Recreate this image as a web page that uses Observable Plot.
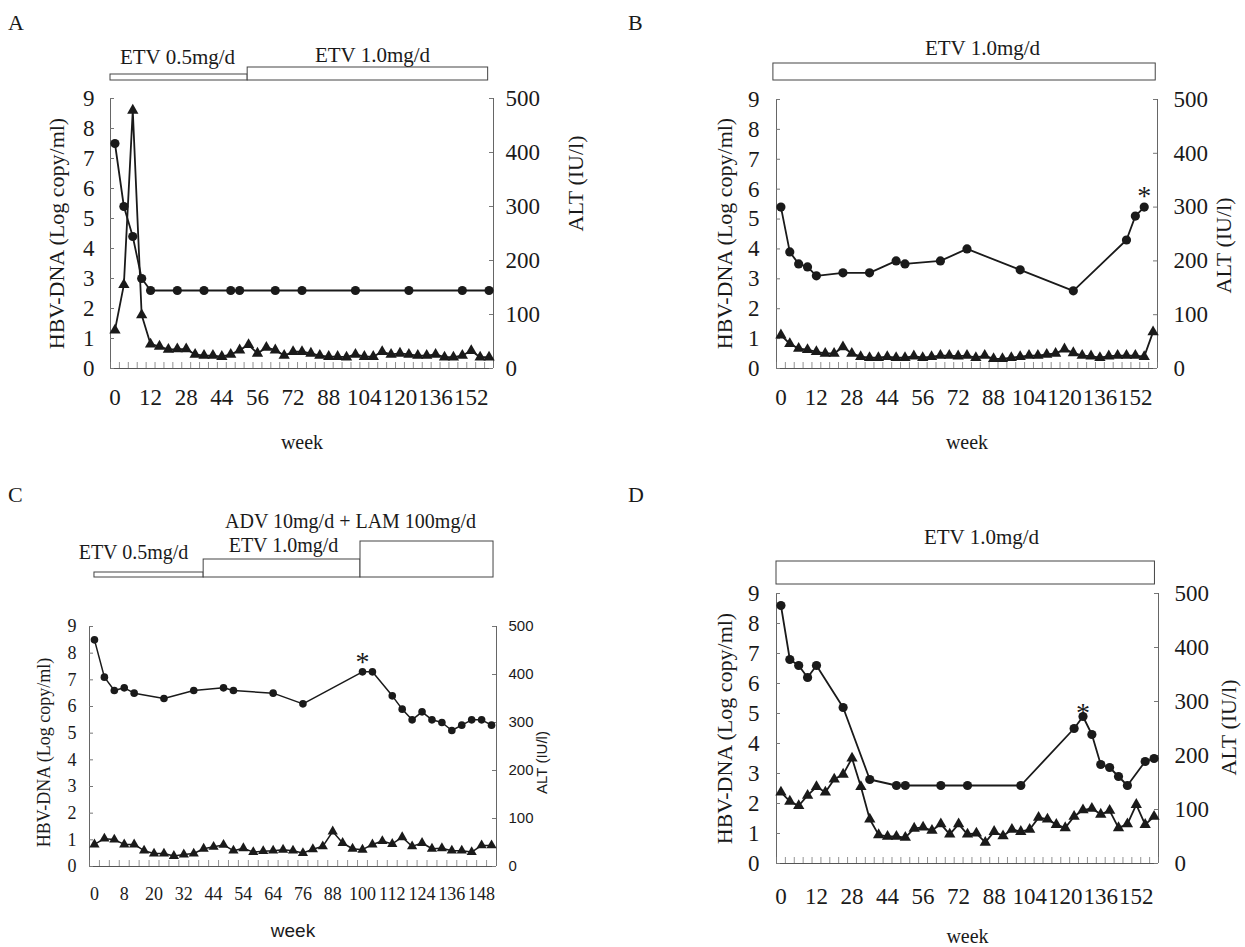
<!DOCTYPE html>
<html><head><meta charset="utf-8">
<script src="https://cdn.jsdelivr.net/npm/d3@7"></script>
<script src="https://cdn.jsdelivr.net/npm/@observablehq/plot@0.6"></script>
<style>
body{margin:0;background:#fff;}
#root{position:relative;width:1245px;height:947px;overflow:hidden;background:#fff;}
.panel{position:absolute;}
.panel svg{overflow:visible;max-width:none;}
.letter{position:absolute;font-family:"Liberation Serif",serif;font-size:22px;color:#1a1a1a;line-height:1;}
</style></head><body><div id="root"></div>
<script>
const N = null;
// visit weeks (x categories)
const weeksABD = [0,2,4,8,12,16,20,24,28,32,36,40,44,48,50,52,56,60,64,68,72,76,80,84,88,92,96,100,104,108,112,116,120,124,128,132,136,140,144,148,152,156,160];
const weeksC = [0,2,4,8,12,16,20,24,28,32,36,40,44,48,50,54,58,60,64,68,72,76,80,84,88,92,96,100,104,108,112,116,120,124,128,132,136,140,144,148,152];

// ALT (IU/l) - triangles
const altA = [71,155,478,99,45,41,35,36,36,26,24,24,22,26,34,44,28,39,34,24,31,31,28,24,22,22,21,26,22,22,31,26,28,26,24,24,26,21,21,24,33,21,21];
const altB = [62,46,37,35,31,28,28,40,28,22,20,20,22,20,20,23,20,22,24,24,23,24,20,24,18,18,20,22,24,24,26,28,36,29,24,23,20,23,24,24,24,22,68];
const altC = [46,58,56,46,46,33,27,27,22,25,27,37,41,45,33,38,30,32,33,35,33,28,36,42,73,49,37,35,46,53,47,61,42,49,37,38,33,33,30,44,44];
const altD = [132,115,107,126,142,132,156,165,195,142,82,53,50,50,48,65,67,61,73,54,73,54,56,39,59,51,63,59,63,85,82,72,66,87,99,102,91,98,66,73,109,72,87];

// HBV-DNA (log copy/ml) - circles (null = not measured)
const dnaA = [7.5,5.4,4.4,3.0,2.6,N,N,2.6,N,N,2.6,N,N,2.6,2.6,N,N,N,2.6,N,N,2.6,N,N,N,N,N,2.6,N,N,N,N,N,2.6,N,N,N,N,N,2.6,N,N,2.6];
const dnaB = [5.4,3.9,3.5,3.4,3.1,N,N,3.2,N,N,3.2,N,N,3.6,3.5,N,N,N,3.6,N,N,4.0,N,N,N,N,N,3.3,N,N,N,N,N,2.6,N,N,N,N,N,4.3,5.1,5.4,N];
const dnaC = [8.5,7.1,6.6,6.7,6.5,N,N,6.3,N,N,6.6,N,N,6.7,6.6,N,N,N,6.5,N,N,6.1,N,N,N,N,N,7.3,7.3,N,6.4,5.9,5.5,5.8,5.5,5.4,5.1,5.3,5.5,5.5,5.3];
const dnaD = [8.6,6.8,6.6,6.2,6.6,N,N,5.2,N,N,2.8,N,N,2.6,2.6,N,N,N,2.6,N,N,2.6,N,N,N,N,N,2.6,N,N,N,N,N,4.5,4.9,4.3,3.3,3.2,2.9,2.6,N,3.4,3.5];

// flagged (*) visit index
const starA = null, starB = 41, starC = 27, starD = 34;

// treatment periods (in category positions)
const treatA = [{label:"ETV 0.5mg/d", from:-0.5, to:14.9},{label:"ETV 1.0mg/d", from:14.9, to:41.9}];
const treatB = [{label:"ETV 1.0mg/d", from:-0.85, to:42.3}];
const treatC = [{label:"ETV 0.5mg/d", from:0.0, to:11.0},{label:"ETV 1.0mg/d", from:11.0, to:26.8},{label:"ADV 10mg/d + LAM 100mg/d", from:26.8, to:40.2}];
const treatD = [{label:"ETV 1.0mg/d", from:-0.5, to:42.1}];

const altTicks = [0,100,200,300,400,500];
const dnaTicks = [0,1,2,3,4,5,6,7,8,9];

const SERIF = '"Liberation Serif","Times New Roman",serif';
const SANS = '"Liberation Sans",Arial,sans-serif';
const INK = "#1a1a1a";

function makePanel(cfg, L) {
  const {weeks, alt, dna, star, treat, every} = cfg;
  const n = weeks.length;
  const k = 9 / 500;
  const pxPerY = (L.bottom - L.top) / 9;
  const pxPerX = (L.right - L.left) / n;
  const pxToY = px => (L.bottom - px) / pxPerY;
  const pxToX = px => (px - L.left) / pxPerX - 0.5;
  const altData = alt.map((v, i) => ({i, y: v * k}));
  const dnaData = dna.map((v, i) => ({i, y: v})).filter(d => d.y != null);
  const starData = dnaData.filter(d => d.i === star);
  const bounds = d3.range(n + 1).map(i => i - 0.5);
  const tLen = 4 / pxPerX;
  const treatRows = treat.map((t, j) => ({...t, top: L.barTops[j], tx: L.textX[j], ty: L.textY[j], anchor: L.textAnchor ? L.textAnchor[j] : "middle"}));
  const fs = L.fs;
  return Plot.plot({
    width: L.width, height: L.height,
    marginLeft: L.left, marginRight: L.width - L.right,
    marginTop: L.top, marginBottom: L.height - L.bottom,
    x: {domain: [-0.5, n - 0.5]},
    y: {domain: [0, 9]},
    style: {fontFamily: SERIF, color: INK, background: "transparent", overflow: "visible"},
    marks: [
      // frame: both value axes and the category axis
      Plot.ruleX([-0.5, n - 0.5], {x: d => d, y1: 0, y2: 9, stroke: "#666", strokeWidth: 1}),
      Plot.ruleY([0], {x1: -0.5, x2: n - 0.5, stroke: "#555", strokeWidth: 1.2}),
      Plot.ruleX(bounds, {x: d => d, y1: 0, y2: 6 / pxPerY, stroke: "#777", strokeWidth: 0.8}),
      Plot.ruleY(dnaTicks, {y: d => d, x1: -0.5, x2: -0.5 + tLen, stroke: "#777"}),
      Plot.ruleY(altTicks, {y: d => d * k, x1: n - 0.5 - tLen, x2: n - 0.5, stroke: "#777"}),
      Plot.axisY(dnaTicks, {anchor: "left", tickSize: 0, tickPadding: L.yPad, label: null, fontSize: fs.tick, fontFamily: SERIF}),
      Plot.axisY(altTicks.map(v => v * k), {anchor: "right", tickSize: 0, tickPadding: L.rPad, label: null,
        tickFormat: d => Math.round(d / k), fontSize: fs.rtick, fontFamily: fs.rtickFont || SERIF}),
      Plot.axisX(d3.range(0, n, every), {tickSize: 0, tickPadding: L.xPad, label: null,
        tickFormat: i => weeks[i], fontSize: fs.tick, fontFamily: SERIF}),
      // axis titles
      Plot.text(["HBV-DNA (Log copy/ml)"], {x: () => pxToX(L.leftTitleX), y: () => pxToY(L.leftTitleY),
        rotate: -90, fontSize: fs.title, fontFamily: SERIF, fill: INK}),
      Plot.text(["ALT (IU/l)"], {x: () => pxToX(L.rightTitleX), y: () => pxToY(L.rightTitleY),
        rotate: -90, fontSize: fs.rtitle, fontFamily: fs.rtitleFont || SERIF, fill: INK}),
      Plot.text(["week"], {frameAnchor: "bottom", dy: L.weekY - L.bottom, fontSize: fs.week, fontFamily: fs.weekFont || SERIF, fill: INK}),
      // treatment bars
      Plot.rect(treatRows, {x1: "from", x2: "to", y1: () => pxToY(L.barBottom), y2: d => pxToY(d.top),
        fill: "white", stroke: "#444", strokeWidth: 1}),
      Plot.text(treatRows, {x: d => pxToX(d.tx), y: d => pxToY(d.ty), text: "label", textAnchor: d => d.anchor,
        fontSize: fs.treat, fontFamily: SERIF, fill: INK}),
      // ALT series
      Plot.line(altData, {x: "i", y: "y", stroke: INK, strokeWidth: L.sw}),
      Plot.dot(altData, {x: "i", y: "y", symbol: "triangle", fill: INK, r: L.tr}),
      // HBV-DNA series
      Plot.line(dnaData, {x: "i", y: "y", stroke: INK, strokeWidth: L.sw}),
      Plot.dot(dnaData, {x: "i", y: "y", fill: INK, r: L.cr}),
      Plot.text(starData, {x: "i", y: "y", text: () => "*", dy: L.starDy, fontSize: 28, fontFamily: SERIF, fill: INK})
    ]
  });
}

const fsBig = {tick: 23, rtick: 23, title: 22, rtitle: 22, week: 20, treat: 21};
const layouts = {
  A: {x: 0, y: 0, width: 612, height: 470, left: 110, right: 493, top: 98, bottom: 368,
      yPad: 16, rPad: 12, xPad: 20, leftTitleX: 56, leftTitleY: 233, rightTitleX: 575, rightTitleY: 183, weekY: 448,
      barBottom: 80, barTops: [74, 67], textX: [177, 372], textY: [57, 55], sw: 1.8, tr: 4.2, cr: 4.6, starDy: -12, fs: fsBig},
  B: {x: 620, y: 0, width: 625, height: 470, left: 156, right: 537, top: 99, bottom: 368,
      yPad: 17, rPad: 16, xPad: 20, leftTitleX: 104, leftTitleY: 233, rightTitleX: 603, rightTitleY: 245, weekY: 448,
      barBottom: 80, barTops: [63], textX: [362], textY: [48], sw: 1.8, tr: 4.2, cr: 4.6, starDy: -11, fs: fsBig},
  C: {x: 0, y: 470, width: 615, height: 477, left: 89, right: 496, top: 156, bottom: 396,
      yPad: 13, rPad: 12, xPad: 21, leftTitleX: 44, leftTitleY: 282, rightTitleX: 542, rightTitleY: 292, weekY: 466,
      barBottom: 107, barTops: [102, 89, 71], textX: [133, 283, 350], textY: [82, 75, 51], textAnchor: ["middle", "middle", "start"],
      sw: 1.5, tr: 3.8, cr: 3.8, starDy: -10,
      fs: {tick: 18, rtick: 15, rtickFont: SANS, title: 18, rtitle: 15, rtitleFont: SANS, week: 19, weekFont: SANS, treat: 20}},
  D: {x: 620, y: 470, width: 625, height: 477, left: 156, right: 538, top: 123, bottom: 393,
      yPad: 17, rPad: 16, xPad: 24, leftTitleX: 104, leftTitleY: 258, rightTitleX: 608, rightTitleY: 257, weekY: 472,
      barBottom: 114, barTops: [91], textX: [361], textY: [67], sw: 1.8, tr: 4.2, cr: 4.6, starDy: -3, fs: fsBig}
};
const panels = {
  A: {weeks: weeksABD, alt: altA, dna: dnaA, star: starA, treat: treatA, every: 4},
  B: {weeks: weeksABD, alt: altB, dna: dnaB, star: starB, treat: treatB, every: 4},
  C: {weeks: weeksC, alt: altC, dna: dnaC, star: starC, treat: treatC, every: 3},
  D: {weeks: weeksABD, alt: altD, dna: dnaD, star: starD, treat: treatD, every: 4}
};
const letterPos = {A: [8, 12], B: [628, 12], C: [8, 484], D: [628, 484]};

const root = document.getElementById("root");
for (const key of ["A", "B", "C", "D"]) {
  const L = layouts[key];
  const div = document.createElement("div");
  div.className = "panel";
  div.style.left = L.x + "px";
  div.style.top = L.y + "px";
  div.appendChild(makePanel(panels[key], L));
  root.appendChild(div);
  const lt = document.createElement("div");
  lt.className = "letter";
  lt.textContent = key;
  lt.style.left = letterPos[key][0] + "px";
  lt.style.top = letterPos[key][1] + "px";
  root.appendChild(lt);
}
</script>
</body></html>
